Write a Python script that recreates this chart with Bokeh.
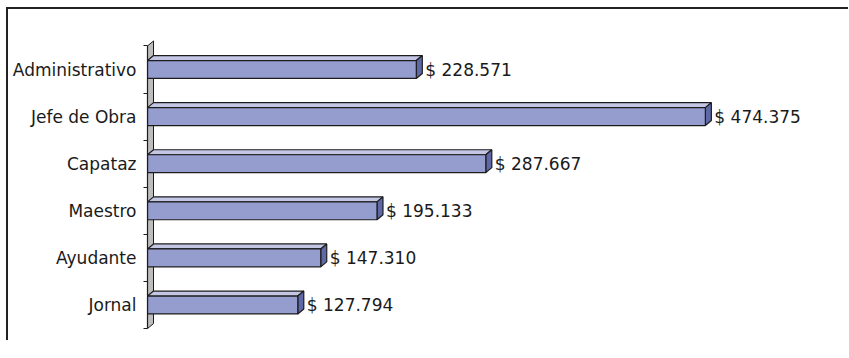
import numpy as np
from bokeh.plotting import figure
from bokeh.models import ColumnDataSource, FixedTicker, Range1d
from bokeh.core.properties import value
from bokeh.embed import file_html
from bokeh.resources import INLINE

# ---- data (bottom to top) ----
categories = ["Jornal", "Ayudante", "Maestro", "Capataz", "Jefe de Obra", "Administrativo"]
salaries = [127794, 147310, 195133, 287667, 474375, 228571]
value_labels = ["$ 127.794", "$ 147.310", "$ 195.133", "$ 287.667", "$ 474.375", "$ 228.571"]

# canvas origin is the page origin
W, H = 848, 340
LEFT = 147
PX_PER_UNIT = 1.176 / 1000.0          # pixels per peso
X_END = (W - LEFT) / PX_PER_UNIT
PX_PER_CAT = 47.1
Y_END = 304.5 / PX_PER_CAT
Y_START = (304.5 - H) / PX_PER_CAT

DX = 6 / PX_PER_UNIT     # 3D depth in x (data units)
DY = 5 / PX_PER_CAT      # 3D depth in y (data units)
HH = 0.19                # half bar height

FRONT = "#959dcf"
TOP = "#c3c7e4"
SIDE = "#5f68a6"
EDGE = "#1c1c1c"
FONT = "DejaVu Sans"
FSIZE = "17px"

p = figure(width=W, height=H, output_backend="svg", toolbar_location=None,
           x_range=Range1d(0, X_END), y_range=Range1d(Y_START, Y_END),
           min_border_left=LEFT, min_border_right=0, min_border_top=0, min_border_bottom=0)
p.outline_line_color = None
p.xgrid.visible = False
p.ygrid.visible = False
p.xaxis.visible = False
p.border_fill_color = None
p.background_fill_color = None
# chart-area frame (only its top and left edges fall inside the window),
# painted behind the transparent canvas
p.styles = {"background-color": "white",
            "box-shadow": "inset 6px 7px 0px 0px #ffffff, inset 8px 9px 0px 0px #222222"}

n = len(categories)
idx = np.arange(n, dtype=float)
vals = np.array(salaries, dtype=float)

# ---- wall ----
wall_x = [[0, DX, DX, 0]]
wall_y = [[-0.5, -0.5 + DY, n - 0.5 + DY, n - 0.5]]
p.patches(wall_x, wall_y, fill_color="#bdbdbd", line_color=EDGE, line_width=1)

# ---- 3D bars ----
top_xs, top_ys, side_xs, side_ys = [], [], [], []
for i, v in zip(idx, vals):
    top_xs.append([0, DX, v + DX, v])
    top_ys.append([i + HH, i + HH + DY, i + HH + DY, i + HH])
    side_xs.append([v, v + DX, v + DX, v])
    side_ys.append([i - HH, i - HH + DY, i + HH + DY, i + HH])

p.patches(top_xs, top_ys, fill_color=TOP, line_color=EDGE, line_width=1.2)
p.patches(side_xs, side_ys, fill_color=SIDE, line_color=EDGE, line_width=1.2)
src = ColumnDataSource(dict(y=idx, right=vals, lab=value_labels, lx=vals + DX))
p.hbar(y="y", right="right", left=0, height=2 * HH, source=src,
       fill_color=FRONT, line_color=EDGE, line_width=1.2)

p.text(x="lx", y="y", text="lab", source=src, x_offset=3,
       text_font=value(FONT), text_font_size=FSIZE,
       text_color="#1a1a1a", text_baseline="middle", text_align="left")

# ---- y axis as the wall front edge ----
ax = p.yaxis[0]
ax.ticker = FixedTicker(ticks=list(idx), minor_ticks=list(np.arange(n + 1) - 0.5))
ax.major_label_overrides = {float(i): c for i, c in zip(idx, categories)}
ax.major_label_overrides.update({int(i): c for i, c in zip(idx, categories)})
ax.bounds = (-0.5, n - 0.5)
ax.major_tick_out = 0
ax.major_tick_in = 0
ax.minor_tick_out = 4
ax.minor_tick_in = 0
ax.minor_tick_line_color = EDGE
ax.axis_line_color = EDGE
ax.axis_line_width = 1.2
ax.major_label_standoff = 7
ax.major_label_text_font = FONT
ax.major_label_text_font_size = FSIZE
ax.major_label_text_color = "#1a1a1a"

open("out.html", "w").write(file_html(p, INLINE))
